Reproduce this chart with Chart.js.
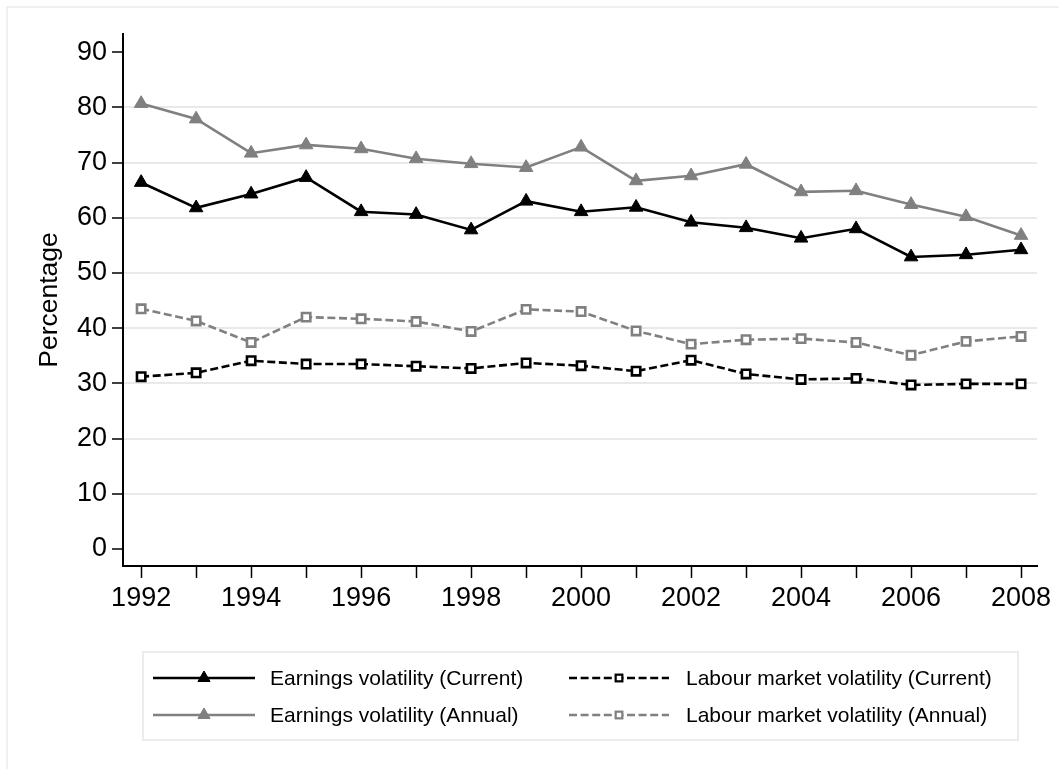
<!DOCTYPE html>
<html>
<head>
<meta charset="utf-8">
<script src="https://cdn.jsdelivr.net/npm/chart.js@4.4.1/dist/chart.umd.min.js"></script>
<style>
  html, body { margin: 0; padding: 0; background: #fff; }
  #wrap { width: 1059px; height: 769px; position: relative; }
</style>
</head>
<body>
<div id="wrap"><canvas id="c" width="1059" height="769"></canvas></div>
<script>
// ---- data ----
const years = [1992,1993,1994,1995,1996,1997,1998,1999,2000,2001,2002,2003,2004,2005,2006,2007,2008];
const earningsCurrent = [66.4,61.8,64.3,67.3,61.1,60.6,57.8,63.0,61.1,61.9,59.2,58.2,56.3,58.0,52.9,53.3,54.2];
const earningsAnnual  = [80.7,77.9,71.7,73.2,72.5,70.7,69.8,69.1,72.8,66.7,67.6,69.7,64.7,64.9,62.4,60.2,56.8];
const labourCurrent   = [31.2,31.9,34.1,33.5,33.5,33.1,32.7,33.7,33.2,32.2,34.2,31.7,30.7,30.9,29.7,29.9,29.9];
const labourAnnual    = [43.5,41.3,37.4,42.0,41.7,41.2,39.4,43.4,43.0,39.5,37.1,37.9,38.1,37.4,35.1,37.6,38.5];
const yTickValues = [0,5,10,15,20,25,30,35,40,45,50,55,60,65,70,75,80,85,90];
const yLabelValues = [0,10,20,30,40,50,60,70,80,90];
const yGridValues = [10,20,30,40,50,60,70,80];
const xLabelValues = [1992,1994,1996,1998,2000,2002,2004,2006,2008];
const seriesLabels = [
  'Earnings volatility (Current)',
  'Labour market volatility (Current)',
  'Earnings volatility (Annual)',
  'Labour market volatility (Annual)'
];

const FONT = '"Liberation Sans", Arial, Helvetica, sans-serif';
const BLACK = '#000000';
const GRAY = '#808080';

function pts(arr) { return years.map((y, i) => ({ x: y, y: arr[i] })); }

const datasets = [
  { label: seriesLabels[0], data: pts(earningsCurrent), borderColor: BLACK, backgroundColor: BLACK,
    borderWidth: 2.6, pointStyle: 'triangle', pointRadius: 7.8, pointBorderWidth: 1,
    pointBackgroundColor: BLACK, pointBorderColor: BLACK },
  { label: seriesLabels[1], data: pts(labourCurrent), borderColor: BLACK, backgroundColor: '#fff',
    borderWidth: 2.6, borderDash: [8, 3.6], pointStyle: 'rect', pointRadius: 5.9, pointBorderWidth: 2.6,
    pointBackgroundColor: '#fff', pointBorderColor: BLACK },
  { label: seriesLabels[2], data: pts(earningsAnnual), borderColor: GRAY, backgroundColor: GRAY,
    borderWidth: 2.6, pointStyle: 'triangle', pointRadius: 7.8, pointBorderWidth: 1,
    pointBackgroundColor: GRAY, pointBorderColor: GRAY },
  { label: seriesLabels[3], data: pts(labourAnnual), borderColor: GRAY, backgroundColor: '#fff',
    borderWidth: 2.6, borderDash: [8, 3.6], pointStyle: 'rect', pointRadius: 5.9, pointBorderWidth: 2.6,
    pointBackgroundColor: '#fff', pointBorderColor: GRAY }
];

// background + outer frame
const framePlugin = {
  id: 'frame',
  beforeDraw(chart) {
    const ctx = chart.ctx;
    ctx.save();
    ctx.fillStyle = '#fff';
    ctx.fillRect(0, 0, chart.width, chart.height);
    ctx.strokeStyle = '#ececec';
    ctx.lineWidth = 1.5;
    ctx.strokeRect(7, 7, chart.width + 20, chart.height + 20);
    ctx.restore();
  }
};

function drawMarker(ctx, ds, x, y, scale) {
  ctx.save();
  ctx.setLineDash([]);
  if (ds.pointStyle === 'triangle') {
    const r = ds.pointRadius * scale;
    ctx.beginPath();
    ctx.moveTo(x, y - r);
    ctx.lineTo(x + r * Math.sin(2 * Math.PI / 3), y + r * 0.5);
    ctx.lineTo(x - r * Math.sin(2 * Math.PI / 3), y + r * 0.5);
    ctx.closePath();
    ctx.fillStyle = ds.pointBackgroundColor;
    ctx.fill();
    ctx.lineWidth = ds.pointBorderWidth;
    ctx.strokeStyle = ds.pointBorderColor;
    ctx.stroke();
  } else {
    const s = Math.SQRT1_2 * ds.pointRadius * scale;
    ctx.fillStyle = ds.pointBackgroundColor;
    ctx.fillRect(x - s, y - s, 2 * s, 2 * s);
    ctx.lineWidth = ds.pointBorderWidth * 0.85;
    ctx.strokeStyle = ds.pointBorderColor;
    ctx.strokeRect(x - s, y - s, 2 * s, 2 * s);
  }
  ctx.restore();
}

// Stata-style legend box below the plot
const legendPlugin = {
  id: 'stataLegend',
  afterDraw(chart) {
    const ctx = chart.ctx;
    ctx.save();
    ctx.strokeStyle = '#e6e6e6';
    ctx.lineWidth = 1.5;
    ctx.strokeRect(143, 652, 875, 88);
    const cols = [{ x0: 153, x1: 255, tx: 270 }, { x0: 569, x1: 669, tx: 686 }];
    const rows = [678, 715];
    chart.data.datasets.forEach((ds, i) => {
      const c = cols[i % 2];
      const y = rows[Math.floor(i / 2)];
      ctx.save();
      ctx.strokeStyle = ds.borderColor;
      ctx.lineWidth = ds.borderWidth;
      ctx.setLineDash(ds.borderDash ? [8, 3.6] : []);
      ctx.beginPath();
      ctx.moveTo(c.x0, y);
      ctx.lineTo(c.x1, y);
      ctx.stroke();
      ctx.restore();
      drawMarker(ctx, ds, (c.x0 + c.x1) / 2, y, ds.pointStyle === 'rect' ? 0.8 : 0.9);
      ctx.fillStyle = '#000';
      ctx.font = '21px ' + FONT;
      ctx.textBaseline = 'middle';
      ctx.textAlign = 'left';
      ctx.fillText(ds.label, c.tx, y + 1);
    });
    ctx.restore();
  }
};

new Chart(document.getElementById('c'), {
  type: 'line',
  data: { datasets },
  plugins: [framePlugin, legendPlugin],
  options: {
    responsive: false,
    animation: false,
    devicePixelRatio: 1,
    layout: { padding: { top: 34, right: 22, left: 0, bottom: 0 } },
    plugins: { legend: { display: false }, tooltip: { enabled: false } },
    elements: { line: { tension: 0 } },
    scales: {
      x: {
        type: 'linear',
        min: 1991.67,
        max: 2008.29,
        afterBuildTicks: s => { s.ticks = years.map(v => ({ value: v })); },
        afterFit: s => { s.height = 203; },
        ticks: {
          autoSkip: false, maxRotation: 0, minRotation: 0,
          color: '#000', padding: 4,
          font: { family: FONT, size: 27 },
          callback: v => xLabelValues.includes(v) ? String(v) : ''
        },
        grid: { drawOnChartArea: false, drawTicks: true, tickLength: 12, tickColor: '#000', tickWidth: 1.5 },
        border: { display: true, color: '#000', width: 2 }
      },
      y: {
        type: 'linear',
        min: -3.1,
        max: 93.3,
        afterBuildTicks: s => { s.ticks = yTickValues.map(v => ({ value: v })); },
        afterFit: s => { s.width = 123; },
        ticks: {
          color: '#000', padding: 5,
          font: { family: FONT, size: 27 },
          callback: v => yLabelValues.includes(v) ? String(v) : ''
        },
        grid: {
          color: c => (c.tick && yGridValues.includes(c.tick.value)) ? '#e9e9e9' : 'rgba(0,0,0,0)',
          lineWidth: 2,
          drawTicks: true, tickLength: 11, tickColor: '#000', tickWidth: 1.5
        },
        border: { display: true, color: '#000', width: 2 },
        title: {
          display: true, text: 'Percentage', color: '#000',
          font: { family: FONT, size: 26.5 },
          padding: { top: 34, bottom: 0 }
        }
      }
    }
  }
});
</script>
</body>
</html>
